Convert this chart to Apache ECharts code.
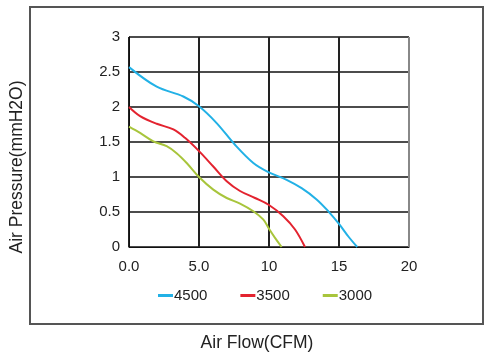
<!DOCTYPE html>
<html>
<head>
<meta charset="utf-8">
<script src="https://cdn.jsdelivr.net/npm/echarts@6/dist/echarts.min.js"></script>
<style>
  html, body { margin: 0; padding: 0; background: #fff; }
  #chart { width: 491px; height: 354px; }
</style>
</head>
<body>
<div id="chart"></div>
<script>
  // fan curves, x = air flow (CFM), y = pressure (mmH2O)
  const seriesNames = ['4500', '3500', '3000']
  const flow4500 = [0, 1.98, 3.88, 5.0, 6.26, 7.57, 8.88, 9.95, 11.26, 12.33, 13.4, 14.24, 15.0, 15.67, 16.3]
  const pres4500 = [2.57, 2.29, 2.15, 2.01, 1.77, 1.46, 1.2, 1.07, 0.96, 0.84, 0.68, 0.51, 0.33, 0.15, 0]
  const flow3500 = [0, 0.79, 1.98, 3.17, 4.0, 5.0, 6.02, 6.98, 7.93, 9.0, 10.0, 11.02, 11.86, 12.57]
  const pres3500 = [2.0, 1.87, 1.76, 1.68, 1.56, 1.37, 1.15, 0.94, 0.8, 0.7, 0.6, 0.44, 0.25, 0]
  const flow3000 = [0, 0.79, 1.74, 2.69, 3.4, 4.12, 5.0, 6.02, 6.98, 7.93, 8.88, 9.6, 10.0, 10.43, 10.9]
  const pres3000 = [1.72, 1.63, 1.51, 1.44, 1.34, 1.2, 1.0, 0.82, 0.7, 0.62, 0.51, 0.39, 0.26, 0.13, 0]
  const xTickLabels = ['0.0', '5.0', '10', '15', '20']
  const colors = ['#22b1e6', '#e3232f', '#a8c53c']

  const zip = (xs, ys) => xs.map((x, i) => [x, ys[i]])
  const flows = [flow4500, flow3500, flow3000]
  const pressures = [pres4500, pres3500, pres3000]

  const myChart = echarts.init(document.getElementById('chart'))
  const font = 'Liberation Sans, Arial, sans-serif'
  let option = {
    animation: false,
    color: colors,
    textStyle: { fontFamily: font },
    graphic: [{
      type: 'rect',
      shape: { x: 30, y: 7, width: 453, height: 317 },
      style: { fill: 'none', stroke: '#555', lineWidth: 2 },
      z: -1
    }, {
      // y axis title sits a bit below the plot middle in the original
      type: 'text',
      x: 17,
      y: 167,
      rotation: Math.PI / 2,
      style: {
        text: 'Air Pressure(mmH2O)', fill: '#222', font: '17.5px ' + font,
        align: 'center', verticalAlign: 'middle'
      }
    }, {
      type: 'text',
      x: 257,
      y: 343,
      style: {
        text: 'Air Flow(CFM)', fill: '#222', font: '17.5px ' + font,
        align: 'center', verticalAlign: 'middle'
      }
    }],
    grid: { left: 129, top: 37, width: 280, height: 210 },
    legend: {
      left: 158,
      top: 288,
      padding: 0,
      icon: 'rect',
      itemWidth: 15,
      itemHeight: 3,
      itemGap: 33,
      textStyle: { fontSize: 15, color: '#222', padding: [0, 0, 0, -4] },
      data: seriesNames
    },
    xAxis: {
      type: 'value',
      min: 0,
      max: 20,
      interval: 5,
      axisLine: { lineStyle: { color: '#111', width: 1 } },
      axisTick: { show: false },
      axisLabel: {
        fontSize: 15, color: '#222', margin: 12,
        formatter: (v, i) => xTickLabels[i]
      },
      splitLine: { lineStyle: { color: ['#222', '#222', '#222', '#222', '#888'], width: 2 } }
    },
    yAxis: {
      type: 'value',
      min: 0,
      max: 3,
      interval: 0.5,
      axisLine: { show: true, lineStyle: { color: '#111', width: 1 } },
      axisTick: { show: false },
      axisLabel: { fontSize: 15, color: '#222', margin: 9 },
      splitLine: { lineStyle: { color: '#111', width: 1.5 } }
    },
    series: seriesNames.map((name, k) => ({
      name: name,
      type: 'line',
      smooth: 0.35,
      showSymbol: false,
      lineStyle: { width: 2 },
      data: zip(flows[k], pressures[k])
    }))
  }
  myChart.setOption(option)
</script>
</body>
</html>
